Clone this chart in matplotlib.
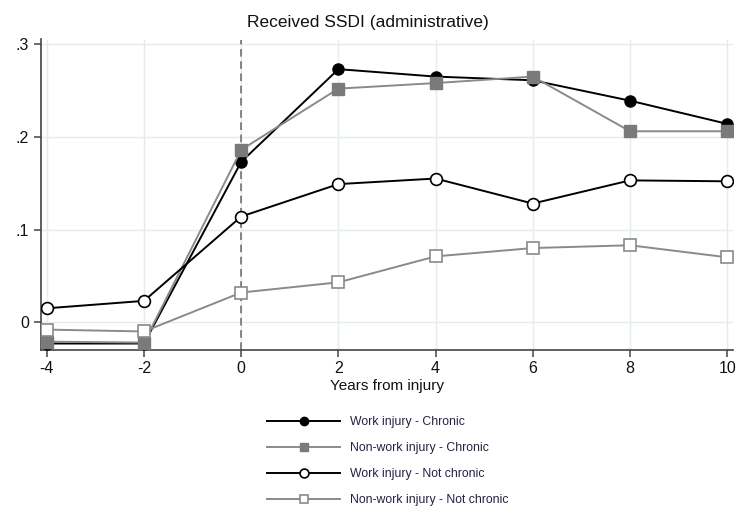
import matplotlib
matplotlib.use("Agg")
import matplotlib.pyplot as plt

plt.rcParams["font.family"] = ["Liberation Sans", "DejaVu Sans"]
plt.rcParams["axes.unicode_minus"] = False

# Event-study means by year relative to injury
years = [-4, -2, 0, 2, 4, 6, 8, 10]
work_chronic = [-0.023, -0.023, 0.173, 0.273, 0.265, 0.261, 0.239, 0.214]
nonwork_chronic = [-0.021, -0.022, 0.186, 0.252, 0.258, 0.265, 0.206, 0.206]
work_not_chronic = [0.015, 0.023, 0.114, 0.149, 0.155, 0.128, 0.153, 0.152]
nonwork_not_chronic = [-0.008, -0.010, 0.032, 0.043, 0.071, 0.080, 0.083, 0.070]

labels = ["Work injury - Chronic", "Non-work injury - Chronic",
          "Work injury - Not chronic", "Non-work injury - Not chronic"]
yticks = [0, 0.1, 0.2, 0.3]
ytick_labels = ["0", ".1", ".2", ".3"]

black = "#000000"
gray = "#8a8a8a"
fill_gray = "#7a7a7a"

fig = plt.figure(figsize=(7.36, 5.12), dpi=100)
ax = fig.add_axes([41 / 736, 1 - 350 / 512, (733 - 41) / 736, (350 - 39.5) / 512])

ax.plot(years, work_chronic, color=black, lw=1.4, marker="o", ms=8,
        mfc=black, mec=black, label=labels[0], zorder=3)
ax.plot(years, nonwork_chronic, color=gray, lw=1.4, marker="s", ms=8,
        mfc=fill_gray, mec=fill_gray, label=labels[1], zorder=3)
ax.plot(years, work_not_chronic, color=black, lw=1.4, marker="o", ms=8.5,
        mfc="white", mec=black, mew=1.2, label=labels[2], zorder=3)
ax.plot(years, nonwork_not_chronic, color=gray, lw=1.4, marker="s", ms=8,
        mfc="white", mec=gray, mew=1.2, label=labels[3], zorder=3)

ax.axvline(0, color="#666666", lw=1.1, ls=(0, (5, 3)), zorder=2)

ax.set_xlim(-4.12, 10.12)
ax.set_ylim(-0.030, 0.305)
ax.set_xticks(years)
ax.set_yticks(yticks)
ax.set_yticklabels(ytick_labels)
ax.grid(True, color="#e3ecef", lw=1.0, zorder=0)
ax.set_axisbelow(True)

for side in ["top", "right"]:
    ax.spines[side].set_visible(False)
for side in ["left", "bottom"]:
    ax.spines[side].set_color("#444444")
    ax.spines[side].set_linewidth(1.2)
ax.tick_params(axis="both", colors="#444444", labelcolor="#111111",
               labelsize=11.5, length=5, width=1.1)
ax.tick_params(axis="x", pad=3)

ax.set_xlabel("Years from injury", fontsize=11, color="#111111", labelpad=2)
fig.text(0.5, 1 - 22 / 512, "Received SSDI (administrative)", ha="center",
         va="center", fontsize=12.5, color="#111111")

fig.legend(loc="upper left", bbox_to_anchor=(267 / 736, 1 - 416 / 512),
           frameon=False, fontsize=8.8, handlelength=6.0, handletextpad=0.8,
           labelspacing=1.15, borderpad=0, borderaxespad=0, markerscale=0.75,
           labelcolor="#222244")

fig.savefig("out.png", dpi=100)
